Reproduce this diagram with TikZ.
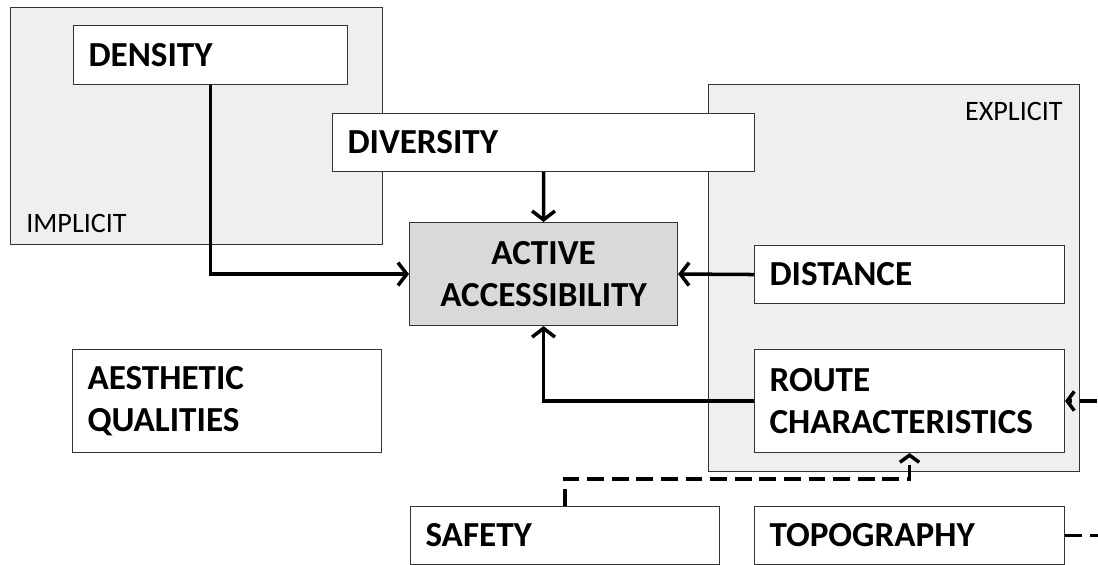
\documentclass[tikz,border=0pt]{standalone}
\usepackage{fontspec}
\setmainfont{Carlito}
\usetikzlibrary{positioning,arrows.meta}
\definecolor{regiongray}{RGB}{239,239,239}
\definecolor{coregray}{RGB}{217,217,217}

\begin{document}
\begin{tikzpicture}[
    factor/.style={draw=black!80,line width=0.6pt,fill=white,anchor=north west,align=left,inner xsep=0.3cm,font=\bfseries\fontsize{20}{24}\selectfont},
    region/.style={draw=black!80,line width=0.6pt,fill=regiongray,anchor=north west,inner sep=0pt},
    regionlabel/.style={inner sep=0pt,font=\fontsize{16}{19}\selectfont},
    link/.style={line width=2pt,-{Straight Barb[length=5pt,width=13pt]}},
    maybe/.style={line width=2pt,dash pattern=on 9.5pt off 4.5pt,-{Straight Barb[length=4pt,width=11pt]}}]
      \useasboundingbox (0,0) rectangle (21.96,-11.28);
      \clip (0,0) rectangle (21.96,-11.28);

      %regions
      \node[region,minimum width=7.44cm,minimum height=4.74cm] (implicit) at (0.2,-0.14) {};
      \node[region,minimum width=7.42cm,minimum height=7.74cm] (explicit) at (14.16,-1.68) {};
      \node[regionlabel,anchor=base west] (implicitlabel) at (0.52,-4.64) {IMPLICIT};
      \node[regionlabel,anchor=base east] (explicitlabel) at (21.26,-2.4) {EXPLICIT};

      %factors
      \node[factor,text width=4.88cm,minimum height=1.18cm] (density) at (1.46,-0.5) {DENSITY};
      \node[factor,text width=7.84cm,minimum height=1.16cm] (diversity) at (6.64,-2.26) {DIVERSITY};
      \node[factor,text width=5.6cm,minimum height=1.16cm] (distance) at (15.08,-4.9) {DISTANCE};
      \node[factor,text width=5.6cm,minimum height=2.06cm] (route) at (15.08,-6.98) {ROUTE\\CHARACTERISTICS};
      \node[factor,text width=5.58cm,minimum height=2.06cm] (aesthetic) at (1.44,-6.98) {AESTHETIC\\QUALITIES};
      \node[factor,text width=5.58cm,minimum height=1.16cm] (safety) at (8.2,-10.12) {SAFETY};
      \node[factor,text width=5.6cm,minimum height=1.16cm] (topography) at (15.08,-10.12) {TOPOGRAPHY};

      %outcome
      \node[factor,fill=coregray,align=center,text width=4.76cm,minimum height=2.06cm] (active) at (8.18,-4.44) {ACTIVE\\ACCESSIBILITY};

      %links
      \coordinate (dashrow) at (0,-9.58);
      \coordinate (rightrail) at (21.995,0);
      \draw[link] (density.south) |- (active.west);
      \draw[link] (diversity.south) -- (active.north);
      \draw[link] (distance.west) -- (active.east);
      \draw[link] (route.west) -| (active.south);
      \draw[maybe] (safety.north) -- (safety.north |- dashrow) -| (route.south);
      \draw[maybe] (topography.east) -| (rightrail |- route.east) -- (route.east);

    \end{tikzpicture}
\end{document}
